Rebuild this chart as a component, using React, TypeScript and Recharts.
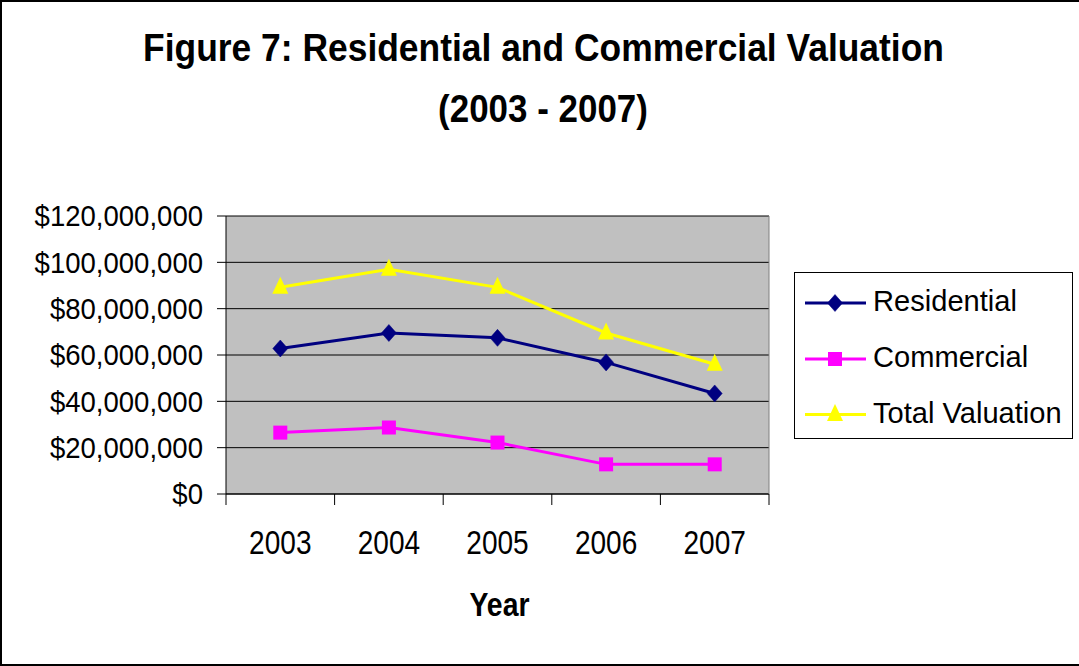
import React from 'react';
import { LineChart, Line, XAxis, YAxis, CartesianGrid, Legend } from 'recharts';

const years = ['2003', '2004', '2005', '2006', '2007'];
const residential = [62800000, 69500000, 67400000, 56800000, 43400000];
const commercial = [26500000, 28700000, 22200000, 12800000, 12800000];
const totalValuation = [89200000, 97000000, 89200000, 69500000, 56000000];
const yTicks = [0, 20000000, 40000000, 60000000, 80000000, 100000000, 120000000];
const seriesNames = ['Residential', 'Commercial', 'Total Valuation'];
const titleLines = ['Figure 7: Residential and Commercial Valuation', '(2003 - 2007)'];
const xAxisTitle = 'Year';

const data = years.map((y, i) => ({
  year: y,
  residential: residential[i],
  commercial: commercial[i],
  total: totalValuation[i],
}));

const FONT = '"Liberation Sans", Arial, Helvetica, sans-serif';

const fmtMoney = (v: number) => '$' + v.toLocaleString('en-US');

type Shape = 'diamond' | 'square' | 'triangle';

const markerOf: Record<string, Shape> = {
  residential: 'diamond',
  commercial: 'square',
  total: 'triangle',
};

function Marker({ cx, cy, shape, color }: { cx: number; cy: number; shape: Shape; color: string }) {
  if (cx == null || cy == null) return null;
  if (shape === 'diamond') {
    const w = 7.5, h = 8.5;
    return <polygon points={`${cx},${cy - h} ${cx + w},${cy} ${cx},${cy + h} ${cx - w},${cy}`} fill={color} stroke={color} strokeWidth={0.5} />;
  }
  if (shape === 'square') {
    const s = 7;
    return <rect x={cx - s} y={cy - s} width={2 * s} height={2 * s} fill={color} />;
  }
  const w = 8, h = 17;
  return <polygon points={`${cx},${cy - h * 0.62} ${cx + w},${cy + h * 0.38} ${cx - w},${cy + h * 0.38}`} fill={color} />;
}

const makeDot = (shape: Shape, color: string) => (props: any) => (
  <Marker key={`${shape}-${props.index}`} cx={props.cx} cy={props.cy} shape={shape} color={color} />
);

const YTick = (props: any) => {
  const { x, y, payload } = props;
  return (
    <text
      transform={`translate(${x},${y}) scale(0.95,1)`}
      textAnchor="end"
      dy="0.355em"
      fontFamily={FONT}
      fontSize={29}
      fill="#000"
    >
      {fmtMoney(payload.value)}
    </text>
  );
};

const XTick = (props: any) => {
  const { x, y, payload, index, visibleTicksCount } = props;
  const off = payload.offset || 0;
  const last = index === (visibleTicksCount ?? years.length) - 1;
  return (
    <g>
      <line x1={x - off} x2={x - off} y1={y} y2={y + 11} stroke="#000" strokeWidth={1} />
      {last && <line x1={x + off} x2={x + off} y1={y} y2={y + 11} stroke="#000" strokeWidth={1} />}
      <text
        transform={`translate(${x},${y + 60}) scale(0.85,1)`}
        textAnchor="middle"
        fontFamily={FONT}
        fontSize={33}
        fill="#000"
      >
        {payload.value}
      </text>
    </g>
  );
};

const XTitle = (props: any) => {
  const { viewBox } = props;
  const cx = viewBox.x + viewBox.width / 2;
  return (
    <text
      transform={`translate(${cx + 2},${viewBox.y + 122}) scale(0.86,1)`}
      textAnchor="middle"
      fontFamily={FONT}
      fontSize={33}
      fontWeight="bold"
      fill="#000"
    >
      {xAxisTitle}
    </text>
  );
};

const LegendContent = (props: any) => {
  const payload = [...(props.payload || [])].sort(
    (a: any, b: any) => seriesNames.indexOf(a.value) - seriesNames.indexOf(b.value)
  );
  const rows = [303, 359, 414.5];
  return (
    <svg width={279} height={167} style={{ display: 'block' }}>
      <rect x={0.5} y={0.5} width={278} height={166} fill="#fff" stroke="#000" strokeWidth={1} />
      {payload.map((entry: any, i: number) => {
        const cy = rows[i] - 272;
        const shape = markerOf[entry.dataKey as string];
        return (
          <g key={entry.value}>
            <line x1={11} x2={72} y1={cy} y2={cy} stroke={entry.color} strokeWidth={3} />
            <Marker cx={41} cy={cy} shape={shape} color={entry.color} />
            <text
              transform={`translate(79,${cy + 8}) scale(0.97,1)`}
              fontFamily={FONT}
              fontSize={30}
              fill="#000"
            >
              {entry.value}
            </text>
          </g>
        );
      })}
    </svg>
  );
};

export default function App() {
  return (
    <div
      style={{
        position: 'absolute',
        left: 0,
        top: 0,
        width: 1079,
        height: 666,
        background: '#fff',
        overflow: 'hidden',
      }}
    >
      <div
        style={{
          position: 'absolute',
          left: 0,
          top: 0,
          width: 1079,
          height: 666,
          boxSizing: 'border-box',
          borderLeft: '2px solid #000',
          borderTop: '2px solid #000',
          borderBottom: '2px solid #000',
          pointerEvents: 'none',
          zIndex: 2,
        }}
      />
      <svg width={1079} height={150} style={{ position: 'absolute', left: 0, top: 0, zIndex: 1 }}>
        <text
          transform="translate(543.5,61) scale(0.92,1)"
          textAnchor="middle"
          fontFamily={FONT}
          fontSize={38.5}
          fontWeight="bold"
          fill="#000"
        >
          {titleLines[0]}
        </text>
        <text
          transform="translate(543,122) scale(0.92,1)"
          textAnchor="middle"
          fontFamily={FONT}
          fontSize={38}
          fontWeight="bold"
          fill="#000"
        >
          {titleLines[1]}
        </text>
      </svg>
      <LineChart
        width={1079}
        height={666}
        data={data}
        margin={{ top: 216, right: 309, bottom: 72, left: 26 }}
      >
        <CartesianGrid
          vertical={false}
          stroke="#000"
          strokeWidth={1}
          fill="#C0C0C0"
          fillOpacity={1}
        />
        <XAxis
          dataKey="year"
          scale="band"
          height={100}
          tickLine={false}
          tickSize={0}
          tickMargin={0}
          axisLine={{ stroke: '#000', strokeWidth: 1 }}
          tick={<XTick />}
          interval={0}
          label={<XTitle />}
        />
        <YAxis
          width={200}
          domain={[0, 120000000]}
          ticks={yTicks}
          interval={0}
          tickSize={9}
          tickMargin={14}
          tickLine={{ stroke: '#000' }}
          axisLine={{ stroke: '#000', strokeWidth: 1 }}
          tick={<YTick />}
        />
        <YAxis
          yAxisId="frame"
          orientation="right"
          width={1}
          domain={[0, 120000000]}
          tick={false}
          tickLine={false}
          axisLine={{ stroke: '#808080', strokeWidth: 1 }}
        />
        <Legend
          layout="vertical"
          align="center"
          verticalAlign="middle"
          content={<LegendContent />}
          wrapperStyle={{ position: 'absolute', left: 794, top: 272, right: 'auto', bottom: 'auto', width: 279, height: 167 }}
        />
        <Line
          type="linear"
          dataKey="residential"
          name={seriesNames[0]}
          stroke="#000080"
          strokeWidth={3}
          dot={makeDot('diamond', '#000080')}
          activeDot={false}
          isAnimationActive={false}
        />
        <Line
          type="linear"
          dataKey="commercial"
          name={seriesNames[1]}
          stroke="#FF00FF"
          strokeWidth={3}
          dot={makeDot('square', '#FF00FF')}
          activeDot={false}
          isAnimationActive={false}
        />
        <Line
          type="linear"
          dataKey="total"
          name={seriesNames[2]}
          stroke="#FFFF00"
          strokeWidth={3}
          dot={makeDot('triangle', '#FFFF00')}
          activeDot={false}
          isAnimationActive={false}
        />
      </LineChart>
    </div>
  );
}
